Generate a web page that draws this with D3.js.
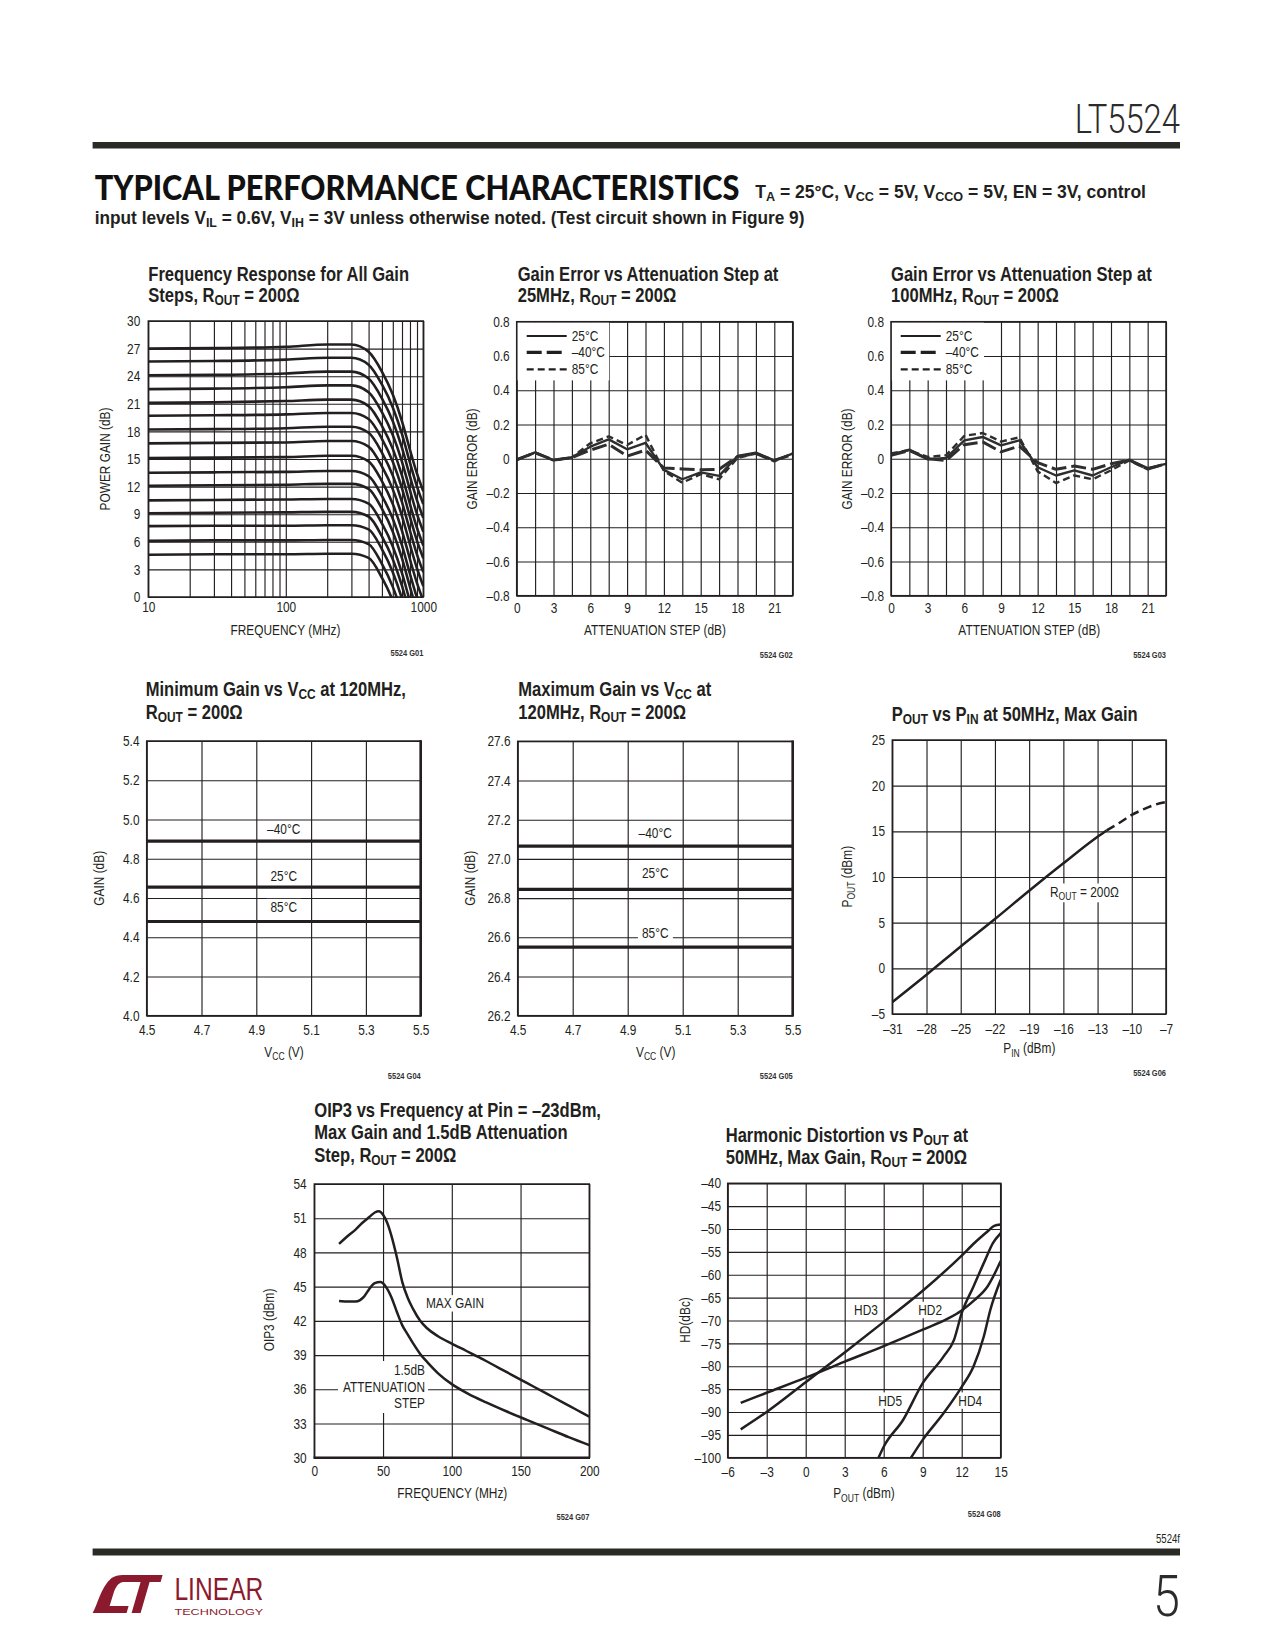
<!DOCTYPE html>
<html><head><meta charset="utf-8">
<script src="https://cdn.jsdelivr.net/npm/d3@7"></script>
<style>body{margin:0;background:#fff}svg{display:block}</style>
</head><body>
<svg id="page" width="1275" height="1650"></svg>
<script>
// ---------------- DATA ----------------
// Chart 1: Frequency response for all gain steps
const c1Freq = [10, 30, 100, 200, 300, 400, 500, 600, 700, 800, 900, 1000];
const c1Gain = [
  [27.0, 27.05, 27.2, 27.45, 27.45, 26.65, 24.5, 22.0, 19.1, 16.0, 13.4, 11.5],
  [25.6, 25.65, 25.8, 26.0, 26.0, 25.25, 23.1, 20.6, 17.7, 14.6, 12.0, 10.1],
  [24.1, 24.15, 24.3, 24.5, 24.5, 23.75, 21.6, 19.1, 16.2, 13.1, 10.5, 8.6],
  [22.6, 22.65, 22.8, 23.0, 23.0, 22.25, 20.1, 17.6, 14.7, 11.6, 9.0, 7.1],
  [21.1, 21.15, 21.3, 21.45, 21.45, 20.75, 18.6, 16.1, 13.2, 10.1, 7.5, 5.6],
  [19.7, 19.75, 19.85, 20.0, 20.0, 19.35, 17.2, 14.7, 11.8, 8.7, 6.1, 4.2],
  [18.2, 18.25, 18.35, 18.5, 18.5, 17.85, 15.7, 13.2, 10.3, 7.2, 4.6, 2.7],
  [16.7, 16.75, 16.8, 16.95, 16.95, 16.35, 14.2, 11.7, 8.8, 5.7, 3.1, 1.2],
  [15.1, 15.15, 15.2, 15.35, 15.35, 14.75, 12.6, 10.1, 7.2, 4.1, 1.5, -0.4],
  [13.5, 13.55, 13.6, 13.7, 13.7, 13.15, 11.0, 8.5, 5.6, 2.5, -0.1, -2.0],
  [12.1, 12.15, 12.2, 12.3, 12.3, 11.75, 9.6, 7.1, 4.2, 1.1, -1.5, -3.4],
  [10.5, 10.55, 10.6, 10.65, 10.65, 10.15, 8.0, 5.5, 2.6, -0.5, -3.1, -5.0],
  [9.1, 9.15, 9.2, 9.25, 9.25, 8.75, 6.6, 4.1, 1.2, -1.9, -4.5, -6.4],
  [7.7, 7.75, 7.75, 7.8, 7.8, 7.35, 5.2, 2.7, -0.2, -3.3, -5.9, -7.8],
  [6.1, 6.15, 6.15, 6.2, 6.2, 5.75, 3.6, 1.1, -1.8, -4.9, -7.5, -9.4],
  [4.6, 4.65, 4.65, 4.7, 4.7, 4.25, 2.1, -0.4, -3.3, -6.4, -9.0, -10.9]
];
const c1XGrid = [10,20,30,40,50,60,70,80,90,100,200,300,400,500,600,700,800,900,1000];
const c1XTicks = [10, 100, 1000];
const c1YTicks = [0,3,6,9,12,15,18,21,24,27,30];

// Charts 2/3: gain error vs attenuation step
const attSteps = [0,1.5,3,4.5,6,7.5,9,10.5,12,13.5,15,16.5,18,19.5,21,22.5];
const attTickLabels = [0,3,6,9,12,15,18,21];
const errTicks = [-0.8,-0.6,-0.4,-0.2,0,0.2,0.4,0.6,0.8];
const legendTemps = ["25°C", "–40°C", "85°C"];
const c2T25  = [-0.005, 0.037, -0.008, 0.008, 0.07, 0.113, 0.055, 0.093, -0.065, -0.12, -0.08, -0.1, 0.016, 0.035, -0.01, 0.03];
const c2Tm40 = [-0.005, 0.035, -0.008, 0.006, 0.05, 0.085, 0.015, 0.05, -0.055, -0.06, -0.065, -0.062, 0.012, 0.03, -0.01, 0.025];
const c2T85  = [-0.008, 0.035, -0.01, 0.008, 0.09, 0.13, 0.08, 0.14, -0.072, -0.14, -0.09, -0.12, 0.005, 0.03, -0.015, 0.03];
const c3T25  = [0.023, 0.053, -0.004, 0.004, 0.107, 0.127, 0.078, 0.107, -0.05, -0.098, -0.068, -0.098, -0.05, -0.006, -0.055, -0.03];
const c3Tm40 = [0.02, 0.048, 0.0, -0.01, 0.082, 0.098, 0.04, 0.074, -0.023, -0.062, -0.043, -0.062, -0.03, -0.008, -0.06, -0.03];
const c3T85  = [0.03, 0.05, 0.01, 0.02, 0.133, 0.15, 0.1, 0.125, -0.074, -0.142, -0.098, -0.12, -0.068, -0.01, -0.062, -0.03];

// Charts 4/5: gain vs Vcc
const vccRange = [4.5, 5.5];
const vccTicks = [4.5, 4.7, 4.9, 5.1, 5.3, 5.5];
const tempLabels = ["–40°C", "25°C", "85°C"];
const c4Gain = [4.89, 4.655, 4.48];
const c4YTicks = [4.0, 4.2, 4.4, 4.6, 4.8, 5.0, 5.2, 5.4];
const c5Gain = [27.065, 26.845, 26.55];
const c5YTicks = [26.2, 26.4, 26.6, 26.8, 27.0, 27.2, 27.4, 27.6];

// Chart 6: Pout vs Pin
const c6PinSolid  = [-31, -28, -25, -22, -19, -16, -13, -12.2];
const c6PoutSolid = [-3.7, -0.7, 2.4, 5.4, 8.5, 11.5, 14.4, 15.1];
const c6PinDash   = [-12.2, -11, -10, -9, -8, -7];
const c6PoutDash  = [15.1, 16.0, 16.8, 17.4, 17.9, 18.2];
const c6XTicks = [-31,-28,-25,-22,-19,-16,-13,-10,-7];
const c6YTicks = [-5,0,5,10,15,20,25];

// Chart 7: OIP3 vs frequency
const c7FreqMax = [18, 25, 30, 35, 40, 44, 47, 50, 53, 56, 60, 64, 68, 72, 77, 82, 90, 100, 110, 120, 130, 140, 150, 160, 170, 180, 190, 200];
const c7OipMax  = [48.75, 49.5, 50.0, 50.6, 51.1, 51.5, 51.6, 51.3, 50.6, 49.5, 47.6, 45.4, 44.0, 43.0, 42.0, 41.35, 40.65, 40.0, 39.4, 38.8, 38.15, 37.5, 36.85, 36.2, 35.55, 34.9, 34.25, 33.6];
const c7FreqAtt = [18, 25, 30, 33, 36, 40, 44, 48, 52, 56, 60, 64, 68, 72, 77, 82, 90, 100, 112, 125, 140, 155, 170, 185, 200];
const c7OipAtt  = [43.75, 43.7, 43.7, 43.8, 44.1, 44.8, 45.3, 45.4, 45.0, 44.1, 42.8, 41.6, 40.8, 40.0, 39.1, 38.4, 37.4, 36.45, 35.6, 34.85, 34.05, 33.3, 32.55, 31.8, 31.1];
const c7XTicks = [0, 50, 100, 150, 200];
const c7YTicks = [30,33,36,39,42,45,48,51,54];

// Chart 8: harmonic distortion vs Pout
const c8PoutHD2 = [-5, -3, 0, 3, 6, 9, 11, 12, 13, 14, 15];
const c8HD2     = [-88, -85.8, -82.5, -79, -75.6, -72, -69.5, -67.8, -65.5, -62.5, -57];
const c8PoutHD3 = [-5, -3, 0, 3, 6, 9, 12, 13, 14, 14.5, 15];
const c8HD3     = [-93.8, -90, -83.5, -77, -70.3, -63.5, -55.8, -53, -50.5, -49.3, -49];
const c8PoutHD5 = [5.6, 6, 7.5, 9, 10.6, 11.4, 12, 12.9, 13.8, 14.4, 15];
const c8HD5     = [-100, -97.6, -91.7, -83.7, -77.9, -74.3, -68.4, -62.6, -56.8, -53.1, -50.9];
const c8PoutHD4 = [8.1, 9, 10.6, 12, 12.9, 13.7, 14.2, 15];
const c8HD4     = [-100, -96.1, -90.3, -84.5, -80.1, -73.5, -67.7, -61.1];
const c8XTicks = [-6,-3,0,3,6,9,12,15];
const c8YTicks = [-100,-95,-90,-85,-80,-75,-70,-65,-60,-55,-50,-45,-40];

// ---------------- DRAWING ----------------
const svg = d3.select("#page");
const INK = "#231f20";
const FONT = "'Liberation Sans', Arial, Helvetica, sans-serif";
const dash = s => String(s).replace(/^[-−]/, "–");

function addText(parent, x, y, parts, o = {}) {
  const size = o.size || 14;
  const g = parent.append("g");
  const t = g.append("text")
    .attr("font-family", o.family || FONT)
    .attr("font-size", size)
    .attr("font-weight", o.weight || "normal")
    .attr("text-anchor", o.anchor || "start")
    .attr("fill", o.fill || INK);
  if (!Array.isArray(parts)) parts = [parts];
  const sh = o.subShift || 0.24;
  let down = false;
  parts.forEach(p => {
    if (Array.isArray(p)) {
      const ts = t.append("tspan").attr("font-size", size * 0.72).text(p[0]);
      if (!down) { ts.attr("dy", size * sh); down = true; }
    } else {
      const ts = t.append("tspan").text(p);
      if (down) { ts.attr("dy", -size * sh); down = false; }
    }
  });
  let sx = o.sx || 0.82;
  if (o.width) sx = o.width / t.node().getComputedTextLength();
  t.attr("transform", `translate(${x},${y})${o.rotate ? ` rotate(${o.rotate})` : ""} scale(${sx},1)`);
  if (o.bg !== undefined) {
    const b = g.node().getBBox();
    g.insert("rect", "text").attr("x", b.x - o.bg).attr("y", b.y).attr("width", b.width + 2 * o.bg)
      .attr("height", b.height).attr("fill", "#fff");
  }
  return g;
}

function title(x, baselines, lines) {
  lines.forEach((ln, i) => addText(svg, x, baselines[i], ln, {size: 19.5, weight: "bold", sx: 0.85, subShift: 0.17}));
}

let clipN = 0;
function makeChart(c) {
  const g = svg.append("g");
  const [x0, y0, x1, y1] = c.box;
  const x = c.x.copy().range([x0, x1]);
  const y = c.y.copy().range([y1, y0]);
  // grid
  g.append("g").attr("transform", `translate(0,${y1})`)
    .call(d3.axisBottom(x).tickValues(c.xGrid).tickSize(-(y1 - y0)).tickFormat(""))
    .call(a => { a.select(".domain").remove(); a.selectAll("line").attr("stroke", INK).attr("stroke-width", 1.15); });
  g.append("g").attr("transform", `translate(${x0},0)`)
    .call(d3.axisLeft(y).tickValues(c.yGrid).tickSize(-(x1 - x0)).tickFormat(""))
    .call(a => { a.select(".domain").remove(); a.selectAll("line").attr("stroke", INK).attr("stroke-width", 1.15); });
  const labels = g.append("g");
  const id = "clip" + (clipN++);
  g.append("clipPath").attr("id", id).append("rect").attr("x", x0).attr("y", y0).attr("width", x1 - x0).attr("height", y1 - y0);
  const plot = g.append("g").attr("clip-path", `url(#${id})`);
  g.append("rect").attr("x", x0).attr("y", y0).attr("width", x1 - x0).attr("height", y1 - y0)
    .attr("fill", "none").attr("stroke", INK).attr("stroke-width", 1.5);
  if (c.thickRight) g.append("line").attr("x1", x1).attr("x2", x1).attr("y1", y0 - 0.7).attr("y2", y1 + 0.7).attr("stroke", INK).attr("stroke-width", 2.6);
  if (c.thickBottom) g.append("line").attr("x1", x0 - 0.7).attr("x2", x1 + 0.7).attr("y1", y1).attr("y2", y1).attr("stroke", INK).attr("stroke-width", 2.6);
  // tick labels
  const fx = c.fx || (d => dash(d)), fy = c.fy || (d => dash(d));
  const ax = g.append("g").attr("transform", `translate(0,${y1})`)
    .call(d3.axisBottom(x).tickValues(c.xTicks).tickSize(0).tickPadding(c.xPad).tickFormat(fx));
  ax.select(".domain").remove();
  ax.attr("font-family", FONT).attr("font-size", 14.5);
  ax.selectAll("text").attr("fill", INK).attr("transform", "scale(0.82,1)");
  const ay = g.append("g").attr("transform", `translate(${x0},0)`)
    .call(d3.axisLeft(y).tickValues(c.yTicks).tickSize(0).tickPadding(c.yPad / 0.82).tickFormat(fy));
  ay.select(".domain").remove();
  ay.attr("font-family", FONT).attr("font-size", 14.5);
  ay.selectAll("text").attr("fill", INK).attr("transform", "scale(0.82,1)");
  // axis titles
  addText(g, c.xt[0], c.xt[1], c.xTitle, {size: 14.5, anchor: "middle"});
  addText(g, c.yt[0] + 5.2, c.yt[1], c.yTitle, {size: 14.5, anchor: "middle", rotate: -90});
  addText(g, c.code[0], c.code[1], c.codeText, {size: 8.5, anchor: "end", weight: "bold", sx: 0.88, fill: "#333"});
  return {g, x, y, plot, labels};
}

function drawLine(plot, xs, ys, x, y, o = {}) {
  const pts = xs.map((v, i) => [v, ys[i]]);
  const line = d3.line().x(d => x(d[0])).y(d => y(d[1])).curve(o.curve || d3.curveLinear);
  plot.append("path").datum(pts).attr("d", line).attr("fill", "none").attr("stroke", o.color || INK)
    .attr("stroke-width", o.w || 2.4).attr("stroke-dasharray", o.dash || null)
    .attr("stroke-linejoin", "round").attr("stroke-linecap", o.cap || "butt");
}

// ---- Header ----
addText(svg, 1180, 132.5, "LT5524", {size: 41, anchor: "end", sx: 0.8, family: "Roboto, 'Liberation Sans', sans-serif", weight: 300, fill: "#2b2b2b"});
svg.append("rect").attr("x", 92.6).attr("y", 142).attr("width", 1087.4).attr("height", 6.5).attr("fill", "#2b2b26");
addText(svg, 94.7, 199.5, "TYPICAL PERFORMANCE CHARACTERISTICS", {size: 35, weight: 900, width: 645, family: "Lato, 'Liberation Sans', sans-serif", fill: "#111"});
addText(svg, 755.3, 198, ["T", ["A"], " = 25°C, V", ["CC"], " = 5V, V", ["CCO"], " = 5V, EN = 3V, control"], {size: 19, weight: "bold", width: 391, subShift: 0.17});
addText(svg, 94.7, 223.5, ["input levels V", ["IL"], " = 0.6V, V", ["IH"], " = 3V unless otherwise noted. (Test circuit shown in Figure 9)"], {size: 18, weight: "bold", width: 710, subShift: 0.17});

// ---- Chart 1 ----
title(148.3, [280.5, 301.7], [["Frequency Response for All Gain"], ["Steps, R", ["OUT"], " = 200Ω"]]);
{
  const c = makeChart({box: [148.3, 321, 423.3, 597], x: d3.scaleLog().domain([10, 1000]), y: d3.scaleLinear().domain([0, 30]),
    xGrid: c1XGrid, yGrid: c1YTicks, xTicks: c1XTicks, yTicks: c1YTicks, xPad: 5, yPad: 8,
    xTitle: "FREQUENCY (MHz)", xt: [285.5, 635], yTitle: "POWER GAIN (dB)", yt: [105, 459],
    code: [423.3, 656], codeText: "5524 G01"});
  c1Gain.forEach(row => drawLine(c.plot, c1Freq, row, c.x, c.y, {curve: d3.curveMonotoneX, w: 2.6}));
}

// ---- Charts 2 & 3 ----
function errChart(left, right, data, xt, yt, code, codeText, legendX) {
  const c = makeChart({box: [left, 321.7, right, 595.7], x: d3.scaleLinear().domain([0, 22.5]), y: d3.scaleLinear().domain([-0.8, 0.8]),
    xGrid: attSteps, yGrid: errTicks, xTicks: attTickLabels, yTicks: errTicks, xPad: 7.5, yPad: 7,
    fy: d => d === 0 ? "0" : dash(d3.format(".1f")(d)),
    xTitle: "ATTENUATION STEP (dB)", xt: xt, yTitle: "GAIN ERROR (dB)", yt: yt, code: code, codeText: codeText});
  // legend
  c.labels.append("rect").attr("x", left + 0.5).attr("y", 322.4).attr("width", legendX.boxW).attr("height", 58).attr("fill", "#fff");
  const styles = [{w: 2.2, dash: null}, {w: 3.2, dash: "15,5"}, {w: 2.2, dash: "7,4"}];
  const ly = [336, 352.3, 369.3];
  legendTemps.forEach((t, i) => {
    c.labels.append("line").attr("x1", legendX.l0).attr("x2", legendX.l0 + 40).attr("y1", ly[i]).attr("y2", ly[i])
      .attr("stroke", INK).attr("stroke-width", styles[i].w).attr("stroke-dasharray", styles[i].dash);
    addText(c.labels, legendX.l0 + 45, ly[i] + 5, t, {size: 14.5});
  });
  drawLine(c.plot, attSteps, data[1], c.x, c.y, {w: 3.0, dash: "15,5", color: "#2e2e2e"});
  drawLine(c.plot, attSteps, data[2], c.x, c.y, {w: 2.4, dash: "7,4", color: "#2e2e2e"});
  drawLine(c.plot, attSteps, data[0], c.x, c.y, {w: 2.4, color: "#2e2e2e"});
}
title(517.7, [281, 302], [["Gain Error vs Attenuation Step at"], ["25MHz, R", ["OUT"], " = 200Ω"]]);
errChart(516.7, 792.7, [c2T25, c2Tm40, c2T85], [655, 635], [471.7, 459], [792.7, 657.7], "5524 G02", {boxW: 92, l0: 526.7});
title(891, [281, 302], [["Gain Error vs Attenuation Step at"], ["100MHz, R", ["OUT"], " = 200Ω"]]);
errChart(891, 1166, [c3T25, c3Tm40, c3T85], [1029.3, 635], [846.7, 459], [1166, 658], "5524 G03", {boxW: 92.5, l0: 900.7});

// ---- Charts 4 & 5 ----
function vccChart(box, yDom, yTicks, gains, labelVals, xt, yt, code, codeText) {
  const c = makeChart({box: box, x: d3.scaleLinear().domain(vccRange), y: d3.scaleLinear().domain(yDom),
    xGrid: vccTicks, yGrid: yTicks, xTicks: vccTicks, yTicks: yTicks, xPad: 9, yPad: 7.2,
    fx: d => d3.format(".1f")(d), fy: d => d3.format(".1f")(d), thickRight: true,
    xTitle: ["V", ["CC"], " (V)"], xt: xt, yTitle: "GAIN (dB)", yt: yt, code: code, codeText: codeText});
  tempLabels.forEach((t, i) => addText(c.labels, c.x(5.0), c.y(labelVals[i]) + 5, t, {size: 14.5, anchor: "middle", bg: 4}));
  gains.forEach(v => drawLine(c.plot, vccRange, [v, v], c.x, c.y, {w: 3.2}));
}
title(145.7, [696, 718.5], [["Minimum Gain vs V", ["CC"], " at 120MHz,"], ["R", ["OUT"], " = 200Ω"]]);
vccChart([146.7, 741, 420.7, 1015.7], [4.0, 5.4], c4YTicks, c4Gain, [4.95, 4.711, 4.554], [284, 1056.7], [98.3, 878.3], [420.7, 1079], "5524 G04");
title(518.3, [696, 718.5], [["Maximum Gain vs V", ["CC"], " at"], ["120MHz, R", ["OUT"], " = 200Ω"]]);
vccChart([517.7, 741.3, 792.7, 1015.7], [26.2, 27.6], c5YTicks, c5Gain, [27.131, 26.93, 26.62], [655.7, 1056.7], [470, 878.3], [792.7, 1079], "5524 G05");

// ---- Chart 6 ----
title(891.7, [720.7], [["P", ["OUT"], " vs P", ["IN"], " at 50MHz, Max Gain"]]);
{
  const c = makeChart({box: [892.3, 740, 1166, 1014], x: d3.scaleLinear().domain([-31, -7]), y: d3.scaleLinear().domain([-5, 25]),
    xGrid: c6XTicks, yGrid: c6YTicks, xTicks: c6XTicks, yTicks: c6YTicks, xPad: 9.3, yPad: 7.3,
    xTitle: ["P", ["IN"], " (dBm)"], xt: [1029.3, 1053.3], yTitle: ["P", ["OUT"], " (dBm)"], yt: [846.7, 876.7],
    code: [1166, 1076], codeText: "5524 G06"});
  addText(c.labels, c.x(-17.17), c.y(8.4) + 5, ["R", ["OUT"], " = 200Ω"], {size: 14.5, bg: 3});
  drawLine(c.plot, c6PinSolid, c6PoutSolid, c.x, c.y, {w: 2.5, curve: d3.curveMonotoneX});
  drawLine(c.plot, c6PinDash, c6PoutDash, c.x, c.y, {w: 2.5, dash: "9,5", curve: d3.curveMonotoneX});
}

// ---- Chart 7 ----
title(314.3, [1116.7, 1139.3, 1161.7], [["OIP3 vs Frequency at Pin = –23dBm,"], ["Max Gain and 1.5dB Attenuation"], ["Step, R", ["OUT"], " = 200Ω"]]);
{
  const c = makeChart({box: [314.3, 1184, 589.3, 1457.7], x: d3.scaleLinear().domain([0, 200]), y: d3.scaleLinear().domain([30, 54]),
    xGrid: c7XTicks, yGrid: c7YTicks, xTicks: c7XTicks, yTicks: c7YTicks, xPad: 8.3, yPad: 7.6, thickBottom: true,
    xTitle: "FREQUENCY (MHz)", xt: [452.3, 1498.3], yTitle: "OIP3 (dBm)", yt: [268.3, 1320],
    code: [589.3, 1520], codeText: "5524 G07"});
  addText(c.labels, c.x(81.2), c.y(43.54) + 5, "MAX GAIN", {size: 14.5, bg: 3});
  c.labels.append("rect").attr("x", 338).attr("y", 1361).attr("width", 90).attr("height", 52).attr("fill", "#fff");
  ["1.5dB", "ATTENUATION", "STEP"].forEach((s, i) =>
    addText(c.labels, c.x(80.5), c.y([37.69, 36.23, 34.77][i]) + 5, s, {size: 14.5, anchor: "end"}));
  drawLine(c.plot, c7FreqMax, c7OipMax, c.x, c.y, {w: 2.5, curve: d3.curveMonotoneX});
  drawLine(c.plot, c7FreqAtt, c7OipAtt, c.x, c.y, {w: 2.5, curve: d3.curveMonotoneX});
}

// ---- Chart 8 ----
title(725.7, [1141.7, 1164], [["Harmonic Distortion vs P", ["OUT"], " at"], ["50MHz, Max Gain, R", ["OUT"], " = 200Ω"]]);
{
  const c = makeChart({box: [727.7, 1183.3, 1000.7, 1457.7], x: d3.scaleLinear().domain([-6, 15]), y: d3.scaleLinear().domain([-100, -40]),
    xGrid: c8XTicks, yGrid: c8YTicks, xTicks: c8XTicks, yTicks: c8YTicks, xPad: 9, yPad: 6.7,
    xTitle: ["P", ["OUT"], " (dBm)"], xt: [864, 1498.3], yTitle: "HD(dBc)", yt: [685, 1320],
    code: [1000.7, 1517], codeText: "5524 G08"});
  [["HD3", 3.72, -67.7], ["HD2", 8.66, -67.7], ["HD5", 5.58, -87.5], ["HD4", 11.74, -87.5]].forEach(l =>
    addText(c.labels, c.x(l[1]), c.y(l[2]) + 5, l[0], {size: 14.5, bg: 3}));
  drawLine(c.plot, c8PoutHD2, c8HD2, c.x, c.y, {w: 2.5, curve: d3.curveMonotoneX});
  drawLine(c.plot, c8PoutHD3, c8HD3, c.x, c.y, {w: 2.5, curve: d3.curveMonotoneX});
  drawLine(c.plot, c8PoutHD5, c8HD5, c.x, c.y, {w: 2.5, curve: d3.curveMonotoneX});
  drawLine(c.plot, c8PoutHD4, c8HD4, c.x, c.y, {w: 2.5, curve: d3.curveMonotoneX});
}

// ---- Footer ----
addText(svg, 1180, 1543, "5524f", {size: 12, anchor: "end", sx: 0.8});
svg.append("rect").attr("x", 92.6).attr("y", 1548.5).attr("width", 1087.4).attr("height", 7).attr("fill", "#2b2b26");
addText(svg, 1180, 1616, "5", {size: 57, anchor: "end", sx: 0.85, family: "Roboto, 'Liberation Sans', sans-serif", weight: 300, fill: "#2b2b2b"});
// Linear Technology logo
{
  const MAROON = "#8b1a2e";
  const lg = svg.append("g").attr("transform", "translate(92.6,1575)").attr("fill", MAROON);
  lg.append("path").attr("d", "M0,38 C5,30 8,12 19,3 C22,1 26,0 30,0 L40,0 L38,7 L31,7 C26,7 23,12 21,18 L17,31 L36,31 L34,38 Z");
  lg.append("path").attr("d", "M36,0 L70,0 L68,7 L57,7 L48,38 L39,38 L48,7 L35,7 Z");
  addText(svg, 174.4, 1600, "LINEAR", {size: 31, width: 89, fill: MAROON});
  addText(svg, 174.4, 1614.5, "TECHNOLOGY", {size: 8.5, width: 89, fill: MAROON});
}
</script>
</body></html>
